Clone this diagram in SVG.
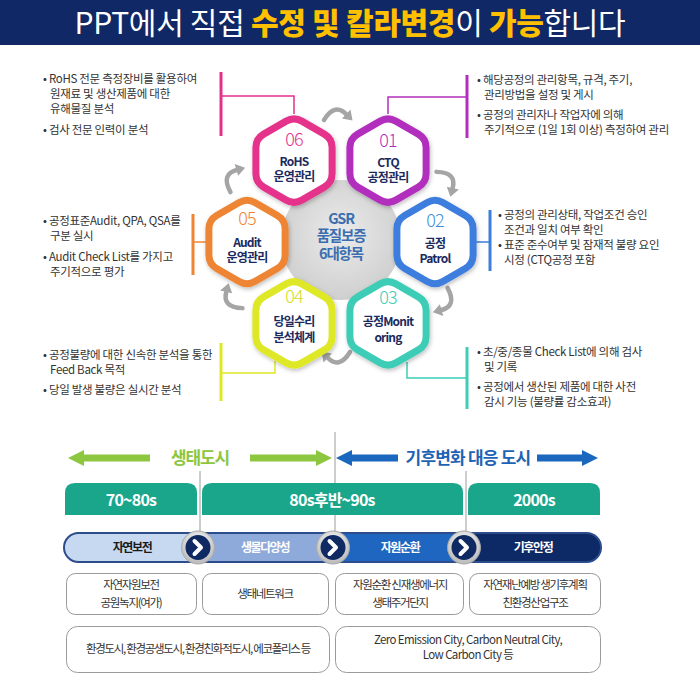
<svg xmlns="http://www.w3.org/2000/svg" width="700" height="700" viewBox="0 0 700 700">
<style>
text{font-family:'Noto Sans CJK KR','Noto Sans',sans-serif}
.desc{font-size:11.5px;letter-spacing:-0.3px;fill:#333}
.num{font-size:18px;font-weight:300;text-anchor:middle;letter-spacing:-1px}
.hname{font-size:12px;font-weight:700;fill:#1b2a5e;text-anchor:middle;letter-spacing:-0.8px}
.ctr{font-size:14.5px;font-weight:700;fill:#3b6eb0;text-anchor:middle;letter-spacing:-1.2px}
.hdr{font-size:16px;font-weight:700;fill:#fff;text-anchor:middle;letter-spacing:-0.8px}
.pill{font-size:12px;font-weight:700;text-anchor:middle;letter-spacing:-1.4px}
.box{font-size:11.5px;fill:#333;text-anchor:middle;letter-spacing:-1.3px}
.boxl{font-size:11.5px;fill:#333;text-anchor:middle;letter-spacing:-0.6px}
.br{fill:none}
.thin{stroke-width:1.5}
.thick{stroke-width:3}
.hex{fill:#fff;stroke-width:7;filter:url(#sh)}
.gl{stroke:#9a9a9a;stroke-width:1}
.box-r{fill:#fff;stroke:#9a9a9a;stroke-width:1}
</style>
<defs>
<filter id="sh" x="-30%" y="-30%" width="160%" height="160%"><feDropShadow dx="1" dy="2" stdDeviation="2" flood-color="#000" flood-opacity="0.25"/></filter>
<radialGradient id="cg" cx="0.5" cy="0.45" r="0.55"><stop offset="0" stop-color="#ebebeb"/><stop offset="1" stop-color="#cfcfcf"/></radialGradient>
<radialGradient id="silver" cx="0.5" cy="0.35" r="0.6"><stop offset="0" stop-color="#ffffff"/><stop offset="1" stop-color="#bdbdbd"/></radialGradient>
<path id="hexp" d="M7.79,-39.5 L30.3,-26.5 Q38.1,-22 38.1,-13 L38.1,13 Q38.1,22 30.3,26.5 L7.79,39.5 Q0,44 -7.79,39.5 L-30.3,26.5 Q-38.1,22 -38.1,13 L-38.1,-13 Q-38.1,-22 -30.3,-26.5 L-7.79,-39.5 Q0,-44 7.79,-39.5 Z"/>
<g id="carrow"><path d="M-14,4 Q-3,-14 9,-1" fill="none" stroke="#a5a5a5" stroke-width="4.5" stroke-linecap="round"/><polygon points="14.5,4.5 4,2.5 12.5,-6.5" fill="#a5a5a5"/></g>
<g id="btn"><circle r="16.5" fill="url(#silver)" stroke="#a8a8a8" stroke-width="1"/><circle r="12.5" fill="#0f2a63"/><polyline points="-3.5,-6.5 3,0 -3.5,6.5" fill="none" stroke="#fff" stroke-width="4" stroke-linecap="round" stroke-linejoin="round"/></g>
<clipPath id="pillclip"><rect x="64" y="533" width="537" height="29" rx="14.5"/></clipPath>
</defs>

<!-- title -->
<g id="title">
<rect x="0" y="0" width="700" height="45" fill="#102865"/>
<text x="350" y="34" text-anchor="middle" font-size="30" fill="#fff" style="letter-spacing:-0.3px">PPT에서 직접 <tspan font-weight="900" fill="#ffc000">수정 및 칼라변경</tspan>이 <tspan font-weight="900" fill="#ffc000">가능</tspan>합니다</text>
</g>

<!-- center circle -->
<g id="center">
<circle cx="341" cy="240" r="60" fill="url(#cg)"/>
<text class="ctr" x="341" y="224">GSR</text>
<text class="ctr" x="341" y="241">품질보증</text>
<text class="ctr" x="341" y="259">6대항목</text>
</g>

<!-- connectors -->
<g id="connectors">
<g class="br" stroke="#e5308b"><line class="thick" x1="221" y1="72" x2="221" y2="136"/><polyline class="thin" points="221,96 294,96 294,114"/></g>
<g class="br" stroke="#b22fbc"><line class="thick" x1="467" y1="75" x2="467" y2="138"/><polyline class="thin" points="467,97 388,97 388,114"/></g>
<g class="br" stroke="#3d7ddd"><line class="thick" x1="490" y1="210" x2="490" y2="271"/><line class="thin" x1="476" y1="242" x2="490" y2="242"/></g>
<g class="br" stroke="#3ecdb6"><line class="thick" x1="467" y1="347" x2="467" y2="409"/><polyline class="thin" points="407,362 407,378 467,378"/></g>
<g class="br" stroke="#dfe825"><line class="thick" x1="221" y1="343" x2="221" y2="401"/><polyline class="thin" points="275,361 275,373 221,373"/></g>
<g class="br" stroke="#ee8534"><line class="thick" x1="193" y1="214" x2="193" y2="275"/><line class="thin" x1="193" y1="242" x2="206" y2="242"/></g>
<use href="#carrow" transform="translate(338,116)"/>
<use href="#carrow" transform="translate(447,182) rotate(60)"/>
<use href="#carrow" transform="translate(444,302) rotate(120)"/>
<use href="#carrow" transform="translate(336,356) rotate(180)"/>
<use href="#carrow" transform="translate(232,298) rotate(240)"/>
<use href="#carrow" transform="translate(234,178) rotate(300)"/>
</g>

<!-- hexagons -->
<g id="hex06"><use href="#hexp" class="hex" stroke="#e5308b" transform="translate(294,160.6)"/>
<text class="num" x="294" y="146" fill="#e5308b">06</text><text class="hname" x="294" y="166">RoHS</text><text class="hname" x="294" y="181">운영관리</text></g>
<g id="hex01"><use href="#hexp" class="hex" stroke="#b22fbc" transform="translate(388,160.6)"/>
<text class="num" x="388" y="147" fill="#b22fbc">01</text><text class="hname" x="388" y="167">CTQ</text><text class="hname" x="388" y="182">공정관리</text></g>
<g id="hex02"><use href="#hexp" class="hex" stroke="#3d7ddd" transform="translate(435,242)"/>
<text class="num" x="435" y="227" fill="#3d8fdd">02</text><text class="hname" x="435" y="248">공정</text><text class="hname" x="435" y="263">Patrol</text></g>
<g id="hex03"><use href="#hexp" class="hex" stroke="#3ecdb6" transform="translate(388,323.4)"/>
<text class="num" x="388" y="304" fill="#3ecdb6">03</text><text class="hname" x="388" y="326">공정Monit</text><text class="hname" x="388" y="342">oring</text></g>
<g id="hex04"><use href="#hexp" class="hex" stroke="#dfe825" transform="translate(294,323.4)"/>
<text class="num" x="294" y="303" fill="#d3dc1c">04</text><text class="hname" x="294" y="326">당일수리</text><text class="hname" x="294" y="342">분석체계</text></g>
<g id="hex05"><use href="#hexp" class="hex" stroke="#ee8534" transform="translate(247,242)"/>
<text class="num" x="247" y="225" fill="#ee8534">05</text><text class="hname" x="247" y="247">Audit</text><text class="hname" x="247" y="262">운영관리</text></g>

<!-- descriptions -->
<g id="desc06" class="desc">
<text x="43" y="83">• RoHS 전문 측정장비를 활용하여</text>
<text x="50" y="98">원재료 및 생산제품에 대한</text>
<text x="50" y="113">유해물질 분석</text>
<text x="43" y="134">• 검사 전문 인력이 분석</text>
</g>
<g id="desc01" class="desc">
<text x="477" y="84">• 해당공정의 관리항목, 규격, 주기,</text>
<text x="484" y="99">관리방법을 설정 및 게시</text>
<text x="477" y="119">• 공정의 관리자나 작업자에 의해</text>
<text x="484" y="134">주기적으로 (1일 1회 이상) 측정하여 관리</text>
</g>
<g id="desc02" class="desc">
<text x="498" y="219">• 공정의 관리상태, 작업조건 승인</text>
<text x="504" y="234">조건과 일치 여부 확인</text>
<text x="498" y="249">• 표준 준수여부 및 잠재적 불량 요인</text>
<text x="504" y="264">시정 (CTQ공정 포함</text>
</g>
<g id="desc03" class="desc">
<text x="477" y="356">• 초/중/종물 Check List에 의해 검사</text>
<text x="484" y="371">및 기록</text>
<text x="477" y="391">• 공정에서 생산된 제품에 대한 사전</text>
<text x="484" y="406">감시 기능 (불량률 감소효과)</text>
</g>
<g id="desc04" class="desc">
<text x="43" y="359">• 공정불량에 대한 신속한 분석을 통한</text>
<text x="50" y="374">Feed Back 목적</text>
<text x="43" y="394">• 당일 발생 불량은 실시간 분석</text>
</g>
<g id="desc05" class="desc">
<text x="43" y="225">• 공정표준Audit, QPA, QSA를</text>
<text x="50" y="240">구분 실시</text>
<text x="43" y="261">• Audit Check List를 가지고</text>
<text x="50" y="276">주기적으로 평가</text>
</g>

<!-- timeline -->
<g id="guides">
<line class="gl" x1="200" y1="471" x2="200" y2="533"/>
<line class="gl" x1="335" y1="432" x2="335" y2="533"/>
<line class="gl" x1="466" y1="471" x2="466" y2="533"/>
</g>
<g id="eco-arrow">
<polygon points="68,458 84,450 84,454.5 150,454.5 150,461.5 84,461.5 84,466" fill="#8dc63f"/>
<polygon points="332,458 316,450 316,454.5 250,454.5 250,461.5 316,461.5 316,466" fill="#8dc63f"/>
<text x="200" y="464" text-anchor="middle" font-size="17" font-weight="700" fill="#8dc63f" style="letter-spacing:-1.2px">생태도시</text>
</g>
<g id="climate-arrow">
<polygon points="336,458 352,450 352,454.5 398,454.5 398,461.5 352,461.5 352,466" fill="#1a67bd"/>
<polygon points="598,458 582,450 582,454.5 537,454.5 537,461.5 582,461.5 582,466" fill="#1a67bd"/>
<text x="468" y="464" text-anchor="middle" font-size="17" font-weight="700" fill="#1f63b5" style="letter-spacing:-0.8px">기후변화 대응 도시</text>
</g>
<g id="hdr1"><path d="M65,515 V493 Q65,483 75,483 H187 Q197,483 197,493 V515 Z" fill="#19a68b"/><text class="hdr" x="131" y="506">70~80s</text></g>
<g id="hdr2"><path d="M202,515 V493 Q202,483 212,483 H453 Q463,483 463,493 V515 Z" fill="#19a68b"/><text class="hdr" x="332" y="506">80s후반~90s</text></g>
<g id="hdr3"><path d="M468,515 V493 Q468,483 478,483 H590 Q600,483 600,493 V515 Z" fill="#19a68b"/><text class="hdr" x="534" y="506">2000s</text></g>

<g id="pillbar">
<g clip-path="url(#pillclip)">
<rect x="64" y="533" width="134" height="29" fill="#c6d9f0"/>
<rect x="198" y="533" width="135" height="29" fill="#8eaadb"/>
<rect x="333" y="533" width="131" height="29" fill="#1e66c0"/>
<rect x="464" y="533" width="137" height="29" fill="#0d2a66"/>
</g>
<rect x="64" y="533" width="537" height="29" rx="14.5" fill="none" stroke="#2c4c8c" stroke-width="2"/>
<text class="pill" x="132" y="552" fill="#1a1a1a">자연보전</text>
<text class="pill" x="265" y="552" fill="#fff">생물다양성</text>
<text class="pill" x="400" y="552" fill="#fff">자원순환</text>
<text class="pill" x="533" y="552" fill="#fff">기후안정</text>
</g>
<g id="btn1"><use href="#btn" transform="translate(198,547.5)"/></g>
<g id="btn2"><use href="#btn" transform="translate(333,547.5)"/></g>
<g id="btn3"><use href="#btn" transform="translate(464,547.5)"/></g>

<g id="box1"><rect class="box-r" x="66.5" y="573.5" width="130" height="41" rx="9"/><text class="box" x="131" y="589">자연자원보전</text><text class="box" x="131" y="607">공원녹지(여가)</text></g>
<g id="box2"><rect class="box-r" x="202.5" y="573.5" width="126" height="41" rx="9"/><text class="box" x="265" y="598">생태네트워크</text></g>
<g id="box3"><rect class="box-r" x="335.5" y="573.5" width="128" height="41" rx="9"/><text class="box" x="400" y="589">자원순환 신재생에너지</text><text class="box" x="400" y="607">생태주거단지</text></g>
<g id="box4"><rect class="box-r" x="469.5" y="573.5" width="131" height="41" rx="9"/><text class="box" x="535" y="589">자연재난예방 생기후계획</text><text class="box" x="535" y="607">친환경산업구조</text></g>
<g id="box5"><rect class="box-r" x="66.5" y="626.5" width="263" height="46" rx="11"/><text class="box" x="198" y="653">환경도시, 환경공생도시, 환경친화적도시, 에코폴리스 등</text></g>
<g id="box6"><rect class="box-r" x="335.5" y="626.5" width="265" height="46" rx="11"/><text class="boxl" x="468" y="644">Zero Emission City, Carbon Neutral City,</text><text class="boxl" x="468" y="659">Low Carbon City 등</text></g>
</svg>
